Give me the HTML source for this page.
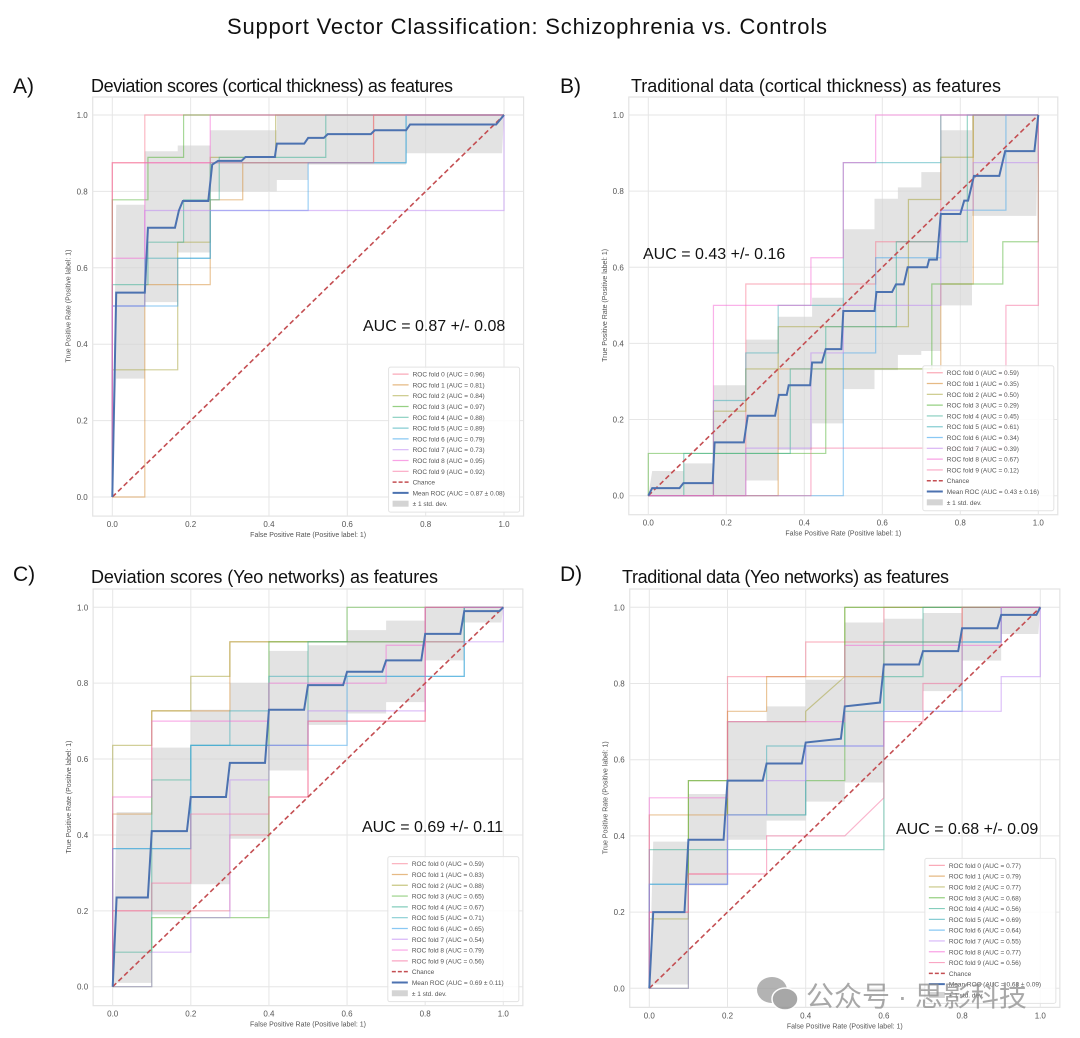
<!DOCTYPE html>
<html><head><meta charset="utf-8">
<style>
html,body{margin:0;padding:0;background:#fff;}
svg{display:block;}
text{font-family:"Liberation Sans","Noto Sans CJK SC",sans-serif;}
</style></head>
<body>
<svg id="fig" width="1080" height="1038" viewBox="0 0 1080 1038" xmlns="http://www.w3.org/2000/svg">
</svg>
<script>
// ---------- data ----------
const ticks = [0, 0.2, 0.4, 0.6, 0.8, 1.0];
const tickLabels = ["0.0", "0.2", "0.4", "0.6", "0.8", "1.0"];
const foldColors = ["#f77189","#d58c32","#a4a031","#50b131","#34ae91","#37abb5","#3ba3ec","#bb83f4","#f564d4","#f66b9b"];

const aucA = ["0.96","0.81","0.84","0.97","0.88","0.89","0.79","0.73","0.95","0.92"];
const aucB = ["0.59","0.35","0.50","0.29","0.45","0.61","0.34","0.39","0.67","0.12"];
const aucC = ["0.59","0.83","0.88","0.65","0.67","0.71","0.65","0.54","0.79","0.56"];
const aucD = ["0.77","0.79","0.77","0.68","0.56","0.69","0.64","0.55","0.77","0.56"];
const meanLabelA = "0.87 ± 0.08", meanLabelB = "0.43 ± 0.16", meanLabelC = "0.69 ± 0.11", meanLabelD = "0.68 ± 0.09";
const summaryA = "AUC = 0.87 +/- 0.08", summaryB = "AUC = 0.43 +/- 0.16", summaryC = "AUC = 0.69 +/- 0.11", summaryD = "AUC = 0.68 +/- 0.09";

const foldsA = [
 [[0,0],[0,0.875],[0.083,0.875],[0.083,1],[1,1]],
 [[0,0],[0.083,0],[0.083,0.556],[0.25,0.556],[0.25,0.778],[0.333,0.778],[0.333,0.875],[0.667,0.875],[0.667,1],[1,1]],
 [[0,0],[0,0.333],[0.167,0.333],[0.167,0.667],[0.25,0.667],[0.25,0.889],[0.417,0.889],[0.417,1],[1,1]],
 [[0,0],[0,0.778],[0.091,0.778],[0.091,0.889],[0.182,0.889],[0.182,1],[1,1]],
 [[0,0],[0,0.556],[0.091,0.556],[0.091,0.667],[0.182,0.667],[0.182,0.778],[0.273,0.778],[0.273,0.889],[0.545,0.889],[0.545,1],[1,1]],
 [[0,0],[0,0.5],[0.083,0.5],[0.083,0.625],[0.25,0.625],[0.25,0.875],[0.75,0.875],[0.75,1],[1,1]],
 [[0,0],[0,0.5],[0.167,0.5],[0.167,0.625],[0.25,0.625],[0.25,0.75],[0.5,0.75],[0.5,0.875],[0.75,0.875],[0.75,1],[1,1]],
 [[0,0],[0,0.5],[0.083,0.5],[0.083,0.75],[1,0.75],[1,1]],
 [[0,0],[0,0.625],[0.083,0.625],[0.083,0.875],[0.25,0.875],[0.25,1],[1,1]],
 [[0,0],[0,0.875],[0.667,0.875],[0.667,1],[1,1]]
];
const meanA = [[0,0],[0.01,0.535],[0.083,0.535],[0.091,0.705],[0.16,0.705],[0.17,0.75],[0.18,0.775],[0.245,0.775],[0.255,0.87],[0.27,0.88],[0.33,0.88],[0.34,0.89],[0.415,0.89],[0.42,0.925],[0.49,0.925],[0.5,0.94],[0.54,0.94],[0.55,0.95],[0.66,0.95],[0.67,0.96],[0.75,0.96],[0.76,0.975],[0.98,0.975],[1,1]];
const bandXA = [0.01,0.083,0.167,0.25,0.42,0.5,0.75,0.995];
const bandLoA = [0.31,0.51,0.64,0.8,0.83,0.87,0.9];
const bandHiA = [0.765,0.905,0.92,0.96,1,1,1];

const foldsB = [
 [[0,0],[0.25,0],[0.25,0.556],[0.583,0.556],[0.583,0.667],[0.75,0.667],[0.75,1],[1,1]],
 [[0,0],[0.333,0],[0.333,0.333],[0.75,0.333],[0.75,0.556],[0.833,0.556],[0.833,1],[1,1]],
 [[0,0],[0.167,0],[0.167,0.222],[0.25,0.222],[0.25,0.333],[0.333,0.333],[0.333,0.444],[0.667,0.444],[0.667,0.778],[0.75,0.778],[0.75,0.889],[0.833,0.889],[0.833,1],[1,1]],
 [[0,0],[0,0.111],[0.455,0.111],[0.455,0.333],[0.727,0.333],[0.727,0.556],[0.909,0.556],[0.909,0.667],[1,0.667],[1,1]],
 [[0,0],[0.091,0],[0.091,0.111],[0.364,0.111],[0.364,0.333],[0.455,0.333],[0.455,0.444],[0.636,0.444],[0.636,0.667],[0.818,0.667],[0.818,1],[1,1]],
 [[0,0],[0.167,0],[0.167,0.25],[0.25,0.25],[0.25,0.375],[0.333,0.375],[0.333,0.5],[0.5,0.5],[0.5,0.875],[0.75,0.875],[0.75,1],[1,1]],
 [[0,0],[0.5,0],[0.5,0.375],[0.583,0.375],[0.583,0.625],[0.75,0.625],[0.75,0.75],[0.917,0.75],[0.917,1],[1,1]],
 [[0,0],[0.25,0],[0.25,0.125],[0.417,0.125],[0.417,0.375],[0.5,0.375],[0.5,0.5],[0.75,0.5],[0.75,0.75],[0.833,0.75],[0.833,0.875],[1,0.875],[1,1]],
 [[0,0],[0.167,0],[0.167,0.5],[0.417,0.5],[0.417,0.625],[0.5,0.625],[0.5,0.875],[0.583,0.875],[0.583,1],[1,1]],
 [[0,0],[0.417,0],[0.417,0.125],[0.917,0.125],[0.917,0.5],[1,0.5],[1,1]]
];
const meanB = [[0,0],[0.01,0.02],[0.08,0.02],[0.09,0.033],[0.165,0.033],[0.17,0.14],[0.245,0.14],[0.255,0.21],[0.325,0.21],[0.335,0.265],[0.355,0.265],[0.36,0.29],[0.415,0.29],[0.42,0.35],[0.445,0.35],[0.455,0.385],[0.495,0.385],[0.5,0.485],[0.58,0.485],[0.585,0.535],[0.625,0.535],[0.635,0.555],[0.655,0.555],[0.665,0.6],[0.715,0.6],[0.72,0.62],[0.74,0.62],[0.75,0.74],[0.8,0.74],[0.81,0.775],[0.82,0.775],[0.835,0.84],[0.9,0.84],[0.915,0.905],[0.99,0.905],[1,1]];
const bandXB = [0.01,0.09,0.167,0.25,0.333,0.42,0.5,0.58,0.64,0.7,0.75,0.83,0.995];
const bandLoB = [0,0,0,0.04,0.12,0.19,0.28,0.33,0.37,0.38,0.5,0.735];
const bandHiB = [0.065,0.085,0.29,0.41,0.47,0.52,0.7,0.78,0.81,0.85,0.96,1];

const foldsC = [
 [[0,0],[0,0.2],[0.3,0.2],[0.3,0.4],[0.4,0.4],[0.4,0.5],[0.5,0.5],[0.5,0.7],[0.8,0.7],[0.8,1],[1,1]],
 [[0,0],[0,0.455],[0.1,0.455],[0.1,0.727],[0.3,0.727],[0.3,0.909],[0.9,0.909],[0.9,1],[1,1]],
 [[0,0],[0,0.636],[0.1,0.636],[0.1,0.727],[0.2,0.727],[0.2,0.818],[0.3,0.818],[0.3,0.909],[0.9,0.909],[0.9,1],[1,1]],
 [[0,0],[0.1,0],[0.1,0.182],[0.4,0.182],[0.4,0.909],[0.6,0.909],[0.6,1],[1,1]],
 [[0,0],[0,0.091],[0.1,0.091],[0.1,0.545],[0.2,0.545],[0.2,0.636],[0.5,0.636],[0.5,0.909],[0.8,0.909],[0.8,1],[1,1]],
 [[0,0],[0,0.364],[0.2,0.364],[0.2,0.636],[0.3,0.636],[0.3,0.727],[0.4,0.727],[0.4,0.818],[0.9,0.818],[0.9,1],[1,1]],
 [[0,0],[0,0.364],[0.2,0.364],[0.2,0.636],[0.6,0.636],[0.6,0.818],[0.9,0.818],[0.9,1],[1,1]],
 [[0,0],[0.1,0],[0.1,0.091],[0.2,0.091],[0.2,0.182],[0.3,0.182],[0.3,0.545],[0.4,0.545],[0.4,0.636],[0.5,0.636],[0.5,0.727],[0.8,0.727],[0.8,0.909],[1,0.909],[1,1]],
 [[0,0],[0,0.5],[0.1,0.5],[0.1,0.7],[0.4,0.7],[0.4,0.8],[0.7,0.8],[0.7,0.9],[0.8,0.9],[0.8,1],[1,1]],
 [[0,0],[0,0.2],[0.1,0.2],[0.1,0.273],[0.2,0.273],[0.2,0.455],[0.4,0.455],[0.4,0.5],[0.5,0.5],[0.5,0.7],[0.8,0.7],[0.8,1],[1,1]]
];
const meanC = [[0,0],[0.01,0.235],[0.09,0.235],[0.1,0.41],[0.19,0.41],[0.2,0.5],[0.29,0.5],[0.3,0.59],[0.39,0.59],[0.4,0.73],[0.49,0.73],[0.5,0.795],[0.59,0.795],[0.6,0.83],[0.69,0.83],[0.7,0.86],[0.79,0.86],[0.8,0.93],[0.89,0.93],[0.9,0.99],[0.99,0.99],[1,1]];
const bandXC = [0.01,0.1,0.2,0.3,0.4,0.5,0.6,0.7,0.8,0.9,0.995];
const bandLoC = [0.01,0.19,0.27,0.39,0.57,0.69,0.72,0.75,0.86,0.96];
const bandHiC = [0.46,0.63,0.73,0.8,0.885,0.9,0.94,0.965,1,1];

const foldsD = [
 [[0,0],[0,0.2],[0.1,0.2],[0.1,0.3],[0.2,0.3],[0.2,0.818],[0.4,0.818],[0.4,0.909],[0.6,0.909],[0.6,1],[1,1]],
 [[0,0],[0,0.455],[0.2,0.455],[0.2,0.727],[0.3,0.727],[0.3,0.818],[0.6,0.818],[0.6,0.909],[0.8,0.909],[0.8,1],[1,1]],
 [[0,0],[0,0.182],[0.1,0.182],[0.1,0.545],[0.2,0.545],[0.2,0.7],[0.4,0.7],[0.4,0.727],[0.5,0.818],[0.5,1],[1,1]],
 [[0,0],[0.1,0],[0.1,0.545],[0.2,0.545],[0.2,0.455],[0.4,0.455],[0.4,0.545],[0.5,0.545],[0.5,1],[1,1]],
 [[0,0],[0,0.364],[0.6,0.364],[0.6,0.818],[0.7,0.818],[0.7,1],[1,1]],
 [[0,0],[0,0.273],[0.2,0.273],[0.2,0.455],[0.3,0.455],[0.3,0.636],[0.5,0.636],[0.5,0.727],[0.6,0.727],[0.6,0.909],[0.9,0.909],[0.9,1],[1,1]],
 [[0,0],[0,0.273],[0.2,0.273],[0.2,0.455],[0.4,0.455],[0.4,0.636],[0.6,0.636],[0.6,0.727],[0.8,0.727],[0.8,0.909],[0.9,0.909],[0.9,1],[1,1]],
 [[0,0],[0.1,0],[0.1,0.273],[0.2,0.273],[0.2,0.455],[0.3,0.455],[0.3,0.545],[0.4,0.545],[0.4,0.636],[0.6,0.636],[0.6,0.727],[0.9,0.727],[0.9,0.818],[1,0.818],[1,1]],
 [[0,0],[0,0.5],[0.2,0.5],[0.2,0.7],[0.5,0.7],[0.5,0.9],[0.9,0.9],[0.9,1],[1,1]],
 [[0,0],[0,0.2],[0.1,0.2],[0.1,0.3],[0.3,0.3],[0.3,0.4],[0.5,0.4],[0.6,0.5],[0.6,0.7],[0.7,0.7],[0.7,0.8],[0.8,0.8],[0.8,1],[1,1]]
];
const meanD = [[0,0],[0.01,0.2],[0.09,0.2],[0.1,0.39],[0.19,0.39],[0.2,0.545],[0.29,0.545],[0.3,0.59],[0.39,0.59],[0.4,0.645],[0.49,0.655],[0.5,0.74],[0.59,0.75],[0.6,0.85],[0.69,0.85],[0.7,0.885],[0.79,0.885],[0.8,0.945],[0.89,0.945],[0.9,0.98],[0.99,0.98],[1,1]];
const bandXD = [0.01,0.1,0.2,0.3,0.4,0.5,0.6,0.7,0.8,0.9,0.995];
const bandLoD = [0.01,0.27,0.39,0.44,0.49,0.54,0.73,0.78,0.86,0.93];
const bandHiD = [0.385,0.51,0.7,0.74,0.81,0.96,0.97,0.985,1,1];

// ---------- drawing ----------
const NS = "http://www.w3.org/2000/svg";
const svg = document.getElementById("fig");
function mk(tag, attrs, parent){ const e=document.createElementNS(NS,tag); for(const k in attrs) e.setAttribute(k,attrs[k]); (parent||svg).appendChild(e); return e; }

function panel(id, L, folds, aucs, mean, bx, blo, bhi, meanLabel, summary, sumX, sumY){
  const g = mk("g",{});
  
  
  const xs = v => L.x0 + v*L.xs;
  const ys = v => L.y0 - v*L.ys;
  const fl = xs(-0.05), fr = xs(1.05), ft = L.top, fb = ys(-0.05);
  const frame = mk("rect",{x:fl,y:ft,width:fr-fl,height:fb-ft,fill:"none",stroke:"#e3e3e3","stroke-width":1.2},g);
  
  
  ticks.forEach((t,i)=>{
    const gx = mk("line",{x1:xs(t),x2:xs(t),y1:ft,y2:fb,stroke:"#e6e6e6","stroke-width":1},g);
    
    
    const gy = mk("line",{x1:fl,x2:fr,y1:ys(t),y2:ys(t),stroke:"#e6e6e6","stroke-width":1},g);
    
    
    const tx = mk("text",{x:xs(t),y:fb+11,"font-size":8,fill:"#555","text-anchor":"middle"},g);
    tx.textContent = tickLabels[i];
    
    
    const ty = mk("text",{x:fl-5,y:ys(t)+3,"font-size":8,fill:"#555","text-anchor":"end"},g);
    ty.textContent = tickLabels[i];
    
    
  });
  const xl = mk("text",{x:(fl+fr)/2,y:fb+21,"font-size":7,fill:"#555","text-anchor":"middle"},g);
  xl.textContent = "False Positive Rate (Positive label: 1)";
  
  
  const ylx = fl-22, yly = ys(0.5);
  const yl = mk("text",{x:ylx,y:yly,"font-size":7,fill:"#555","text-anchor":"middle",transform:`rotate(-90 ${ylx} ${yly})`},g);
  yl.textContent = "True Positive Rate (Positive label: 1)";
  
  
  let pts = [[xs(0),ys(0)]];
  for(let i=0;i<bhi.length;i++){ pts.push([xs(bx[i]),ys(bhi[i])]); pts.push([xs(bx[i+1]),ys(bhi[i])]); }
  pts.push([xs(1),ys(1)]);
  for(let i=blo.length-1;i>=0;i--){ pts.push([xs(bx[i+1]),ys(blo[i])]); pts.push([xs(bx[i]),ys(blo[i])]); }
  const band = mk("polygon",{points:pts.map(p=>p.join(",")).join(" "),fill:"#d4d4d4","fill-opacity":0.65},g);
  
  
  folds.forEach((f,i)=>{
    const p = mk("polyline",{points:f.map(q=>xs(q[0])+","+ys(q[1])).join(" "),fill:"none",stroke:foldColors[i],"stroke-opacity":0.5,"stroke-width":1.2},g);
    
    
  });
  const ch = mk("line",{x1:xs(0),y1:ys(0),x2:xs(1),y2:ys(1),stroke:"#c44e52","stroke-width":1.6,"stroke-dasharray":"5,3"},g);
  
  
  const m = mk("polyline",{points:mean.map(q=>xs(q[0])+","+ys(q[1])).join(" "),fill:"none",stroke:"#4c72b0","stroke-width":2},g);
  
  
  const lw = 131, lh = 145, lx = fr-4-lw, ly = fb-4-lh;
  const lg = mk("g",{},g);
  
  
  mk("rect",{x:lx,y:ly,width:lw,height:lh,fill:"#fff","fill-opacity":0.85,stroke:"#e3e3e3",rx:2},lg);
  const labels = aucs.map((a,i)=>`ROC fold ${i} (AUC = ${a})`).concat(["Chance","Mean ROC (AUC = "+meanLabel+")","± 1 std. dev."]);
  labels.forEach((s,i)=>{
    const yy = ly+7+i*10.8;
    const e = mk("g",{},lg);
    
    
    if(i<10) mk("line",{x1:lx+4,x2:lx+20,y1:yy,y2:yy,stroke:foldColors[i],"stroke-opacity":0.6,"stroke-width":1.2},e);
    else if(i===10) mk("line",{x1:lx+4,x2:lx+20,y1:yy,y2:yy,stroke:"#c44e52","stroke-width":1.5,"stroke-dasharray":"4,2"},e);
    else if(i===11) mk("line",{x1:lx+4,x2:lx+20,y1:yy,y2:yy,stroke:"#4c72b0","stroke-width":2},e);
    else mk("rect",{x:lx+4,y:yy-3,width:16,height:6,fill:"#d4d4d4"},e);
    const t = mk("text",{x:lx+24,y:yy+2.5,"font-size":6.5,fill:"#555"},e);
    t.textContent = s;
  });
  const st = mk("text",{x:sumX,y:sumY,"font-size":16,fill:"#111"},g);
  st.textContent = summary;
  
  
}

panel("a",{x0:112.3,xs:391.7,y0:497,ys:382,top:97},foldsA,aucA,meanA,bandXA,bandLoA,bandHiA,meanLabelA,summaryA,363,331);
panel("b",{x0:648.3,xs:390,y0:495.7,ys:380.7,top:97},foldsB,aucB,meanB,bandXB,bandLoB,bandHiB,meanLabelB,summaryB,643,259);
panel("c",{x0:112.7,xs:390.6,y0:986.7,ys:379.4,top:589},foldsC,aucC,meanC,bandXC,bandLoC,bandHiC,meanLabelC,summaryC,362,832);
panel("d",{x0:649.3,xs:391,y0:988.3,ys:381,top:589},foldsD,aucD,meanD,bandXD,bandLoD,bandHiD,meanLabelD,summaryD,896,834);

// titles (drawn last so nothing covers them)
function txt(name, x, y, size, s, len){
  const t = mk("text",{x:x,y:y,"font-size":size,fill:"#111"});
  if(len) t.setAttribute("textLength", len);
  t.textContent = s;
  
  
}
txt("figure-title", 227, 34, 22, "Support Vector Classification: Schizophrenia vs. Controls", 600);
txt("panel-label-a", 13, 93, 21, "A)");
txt("panel-title-a", 91, 92, 18, "Deviation scores (cortical thickness) as features", 362);
txt("panel-label-b", 560, 93, 21, "B)");
txt("panel-title-b", 631, 92, 18, "Traditional data (cortical thickness) as features", 370);
txt("panel-label-c", 13, 581, 21, "C)");
txt("panel-title-c", 91, 583, 18, "Deviation scores (Yeo networks) as features", 347);
txt("panel-label-d", 560, 581, 21, "D)");
txt("panel-title-d", 622, 583, 18, "Traditional data (Yeo networks) as features", 327);

const wm = mk("g",{opacity:0.75});


mk("ellipse",{cx:772,cy:990,rx:15,ry:13,fill:"#9a9a9a"},wm);
mk("ellipse",{cx:785,cy:999,rx:13,ry:11,fill:"#8a8a8a",stroke:"#fff","stroke-width":1.5},wm);
const wt = mk("text",{x:806,y:1006,"font-size":28,fill:"#8c8c8c"},wm);
wt.textContent = "公众号 · 思影科技";
</script>
</body></html>
